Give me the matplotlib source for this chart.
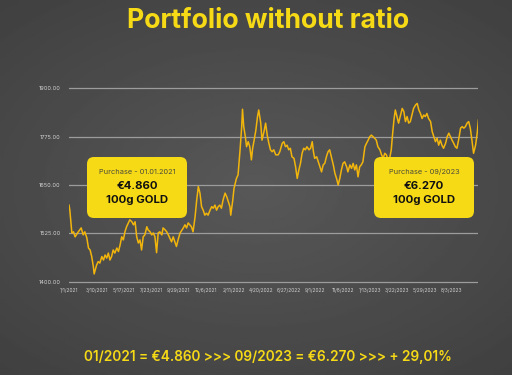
import numpy as np
import pandas as pd
import matplotlib.pyplot as plt
from matplotlib.patches import FancyBboxPatch

plt.rcParams['font.family'] = ['Inter', 'DejaVu Sans']

# gold price (EUR/oz); days counted from 1 Jan 2021
days = [0, 2, 7, 11, 15, 23, 30, 35, 39, 44, 48, 52, 56, 60, 62, 68, 72, 76, 81, 85,
        89, 93, 97, 101, 105, 109, 113, 118, 122, 126, 130, 134, 138, 142, 150, 155, 159, 163, 167, 171,
        175, 179, 183, 187, 192, 195, 200, 204, 208, 212, 216, 220, 224, 229, 232, 237, 241, 245, 253, 257,
        265, 269, 274, 282, 286, 290, 294, 298, 302, 306, 311, 315, 319, 323, 327, 331, 335, 339, 343, 348,
        352, 356, 360, 364, 368, 372, 376, 380, 385, 389, 393, 397, 399, 404, 407, 413, 417, 422, 426, 428,
        431, 435, 438, 442, 446, 450, 453, 456, 461, 465, 468, 473, 476, 481, 485, 489, 493, 497, 501, 505,
        510, 516, 520, 526, 530, 534, 538, 542, 546, 550, 555, 559, 563, 567, 571, 575, 579, 583, 587, 592,
        596, 600, 603, 606, 611, 615, 619, 623, 627, 631, 635, 639, 643, 648, 652, 656, 660, 664, 668, 672,
        676, 680, 685, 688, 693, 697, 701, 705, 709, 713, 717, 721, 725, 730, 734, 738, 742, 746, 750, 754,
        758, 762, 767, 771, 775, 779, 783, 787, 791, 795, 798, 802, 805, 809, 813, 818, 822, 826, 830, 834,
        838, 842, 846, 850, 855, 859, 863, 867, 871, 875, 879, 883, 887, 892, 896, 900, 904, 908, 912, 916,
        920, 924, 929, 933, 937, 941, 945, 949, 953, 957, 961, 966, 970, 974, 978, 982, 986, 990, 994, 998,
        1003, 1007, 1010]
prices = [1598, 1585, 1526, 1529, 1516, 1529, 1539, 1521, 1529, 1513, 1487, 1482, 1465, 1439, 1420, 1443, 1452, 1448, 1465, 1456,
          1469, 1461, 1474, 1456, 1465, 1482, 1474, 1487, 1478, 1495, 1516, 1508, 1529, 1542, 1560, 1555, 1547, 1555, 1516, 1500,
          1508, 1482, 1516, 1521, 1542, 1534, 1529, 1521, 1526, 1516, 1475, 1526, 1529, 1521, 1539, 1534, 1529, 1521, 1503, 1516,
          1491, 1508, 1526, 1539, 1547, 1539, 1552, 1547, 1542, 1529, 1568, 1611, 1646, 1629, 1594, 1585, 1572, 1577, 1572, 1585,
          1594, 1590, 1598, 1585, 1594, 1598, 1590, 1611, 1629, 1620, 1607, 1594, 1572, 1611, 1641, 1667, 1676, 1741, 1801, 1846,
          1801, 1775, 1749, 1762, 1749, 1715, 1745, 1762, 1792, 1827, 1844, 1810, 1766, 1788, 1810, 1779, 1758, 1741, 1736, 1741,
          1728, 1728, 1736, 1758, 1762, 1749, 1753, 1741, 1745, 1723, 1719, 1697, 1667, 1689, 1706, 1732, 1745, 1741, 1749, 1741,
          1745, 1762, 1736, 1719, 1723, 1710, 1697, 1684, 1702, 1706, 1723, 1736, 1741, 1719, 1702, 1680, 1667, 1650, 1667, 1689,
          1706, 1710, 1697, 1684, 1702, 1693, 1706, 1689, 1702, 1671, 1697, 1702, 1710, 1749, 1758, 1766, 1775, 1779, 1775, 1771,
          1766, 1749, 1741, 1728, 1719, 1732, 1728, 1715, 1719, 1741, 1779, 1822, 1844, 1827, 1810, 1831, 1848, 1840, 1814, 1827,
          1810, 1814, 1831, 1848, 1857, 1861, 1844, 1835, 1822, 1831, 1827, 1835, 1822, 1814, 1788, 1775, 1762, 1771, 1753, 1766,
          1753, 1745, 1758, 1775, 1784, 1775, 1766, 1758, 1749, 1745, 1766, 1797, 1801, 1797, 1801, 1810, 1814, 1797, 1766, 1732,
          1753, 1784, 1818]

tick_labels = ['1/1/2021', '3/10/2021', '5/17/2021', '7/23/2021', '9/29/2021', '12/6/2021',
               '2/11/2022', '4/20/2022', '6/27/2022', '9/1/2022', '11/8/2022', '1/13/2023',
               '3/22/2023', '5/29/2023', '8/3/2023']
y_ticks = [1400, 1525, 1650, 1775, 1900]

boxes = [('Purchase - 01.01.2021', '€4.860', '100g GOLD'),
         ('Purchase - 09/2023', '€6.270', '100g GOLD')]
title = 'Portfolio without ratio'
summary = '01/2021 = €4.860 >>> 09/2023 = €6.270 >>> + 29,01%'

YELLOW = '#F7DA16'
GOLD = '#F2B50C'

dates = pd.Timestamp('2021-01-01') + pd.to_timedelta(days, unit='D')
tick_dates = pd.to_datetime(tick_labels, format='%m/%d/%Y')

fig = plt.figure(figsize=(5.12, 3.75), dpi=100)

# background: soft radial gradient
bg = fig.add_axes([0, 0, 1, 1], zorder=0)
yy, xx = np.mgrid[-1:1:200j, -1:1:200j]
r = np.sqrt(xx**2 * 0.8 + yy**2)
bg.imshow(0.345 - 0.07 * r, cmap='gray', vmin=0, vmax=1, aspect='auto',
          extent=[0, 1, 0, 1])
bg.axis('off')

ax = fig.add_axes([0.1348, 0.2437, 0.7996, 0.5259], zorder=1)
ax.patch.set_alpha(0)
ax.plot(dates, prices, color=GOLD, lw=1.1, zorder=3)
ax.set_xlim(dates[0], dates[-1])
ax.set_ylim(1395, 1905)
ax.set_yticks(y_ticks)
ax.set_yticklabels([f'{v:.2f}' for v in y_ticks])
ax.set_xticks(tick_dates)
ax.set_xticklabels(tick_labels)
ax.grid(axis='y', color='#9c9c9c', lw=0.9)
ax.grid(axis='x', visible=False)
ax.tick_params(axis='both', length=0, colors='#d0d0d0', labelsize=4.0)
ax.tick_params(axis='x', labelsize=3.5, pad=3)
ax.tick_params(axis='y', pad=6)
for s in ax.spines.values():
    s.set_visible(False)

# overlay in pixel coordinates for the callouts and texts
ov = fig.add_axes([0, 0, 1, 1], zorder=5)
ov.set_xlim(0, 512)
ov.set_ylim(375, 0)
ov.axis('off')

for x0, (top, mid, bot) in zip([87, 374], boxes):
    w, h = 100, 61
    ov.add_patch(FancyBboxPatch((x0, 157), w, h,
                 boxstyle='round,pad=0,rounding_size=7',
                 facecolor=YELLOW, edgecolor='none'))
    cx = x0 + w / 2
    ov.text(cx, 172, top, ha='center', va='center', fontsize=5.3, color='#4a4a3a')
    ov.text(cx, 186, mid, ha='center', va='center', fontsize=8.2,
            fontweight='bold', color='#111111')
    ov.text(cx, 200, bot, ha='center', va='center', fontsize=8.2,
            fontweight='bold', color='#111111')

ov.text(268, 21, title, ha='center', va='center', fontsize=19.2,
        fontweight='bold', color=YELLOW)
ov.text(268, 357, summary, ha='center', va='center', fontsize=9.8,
        fontweight='semibold', color=YELLOW)

fig.savefig('out.png', dpi=100)
